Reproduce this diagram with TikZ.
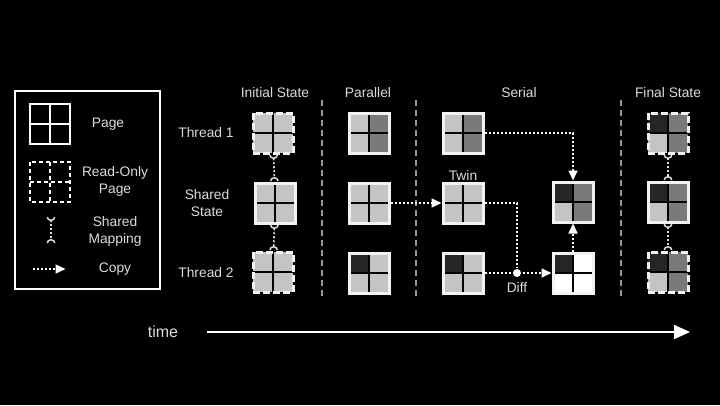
\documentclass[tikz,border=0pt]{standalone}
\usepackage{fontspec}
\setmainfont{Liberation Sans}
\usetikzlibrary{arrows.meta}
\definecolor{pglight}{HTML}{C4C4C4}
\definecolor{pgmid}{HTML}{7A7A7A}
\definecolor{pgdark}{HTML}{262626}
\definecolor{pgedge}{HTML}{F2F2F2}
\definecolor{txtgray}{HTML}{DCDCDC}
\definecolor{sepgray}{HTML}{9A9A9A}
\tikzset{
	pagenode/.style={rectangle, minimum size=40pt, inner sep=0pt, outer sep=0pt},
	solidpage/.style={draw=pgedge, line width=3pt},
	ropage/.style={solidpage, dash pattern=on 7pt off 3pt},
	crossline/.style={draw=black, line width=2.6pt},
	copyline/.style={draw=white, line width=1.6pt, dash pattern=on 2pt off 2pt, -{Triangle[length=10pt,width=9pt]}, shorten >=1.5pt, shorten <=1.5pt},
	mapline/.style={draw=txtgray, line width=1.6pt, dash pattern=on 2pt off 2pt, {Arc Barb[width=9pt,length=4pt,reversed,line width=1.5pt]}-{Arc Barb[width=9pt,length=4pt,reversed,line width=1.5pt]}, shorten >=2pt, shorten <=2pt},
	sepline/.style={draw=sepgray, line width=1.8pt, dash pattern=on 6pt off 4pt},
	txt/.style={text=txtgray, font=\fontsize{13.8}{17}\selectfont, align=center, inner sep=0pt},
	legpage/.style={rectangle, minimum size=40pt, inner sep=0pt, draw=white, line width=2pt},
	legro/.style={draw=white, line width=2pt, dash pattern=on 4pt off 3pt},
}
% page with four quadrants: [border](name)(x,y)(TL:TR:BL:BR)
\def\pagebox[#1](#2)(#3)(#4:#5:#6:#7){%
	\node[pagenode] (#2) at (#3) {};
	\fill[#4] (#2.north west) rectangle (#2.center);
	\fill[#5] (#2.north east) rectangle (#2.center);
	\fill[#6] (#2.south west) rectangle (#2.center);
	\fill[#7] (#2.south east) rectangle (#2.center);
	\draw[crossline] (#2.north) -- (#2.south) (#2.west) -- (#2.east);
	\draw[#1] (#2.north west) rectangle (#2.south east);}

\begin{document}
\begin{tikzpicture}[x=1pt, y=-1pt]
		%%%%% START %%%%%
		\fill[black] (0, 0) rectangle (720, 405);
		\useasboundingbox (0, 0) rectangle (720, 405);
		
		%%%%% legend %%%%%
		\draw[white, line width=2pt] (15, 91) rectangle (160, 289);
		
		\node[legpage] (lgpage) at (49.5, 124) {};
		\draw[white, line width=2pt] (lgpage.north) -- (lgpage.south) (lgpage.west) -- (lgpage.east);
		\node[txt] (lgpagetxt) at (108, 124) {Page};
		
		\node[pagenode] (lgro) at (49.5, 181.5) {};
		\draw[legro] (lgro.north west) rectangle (lgro.south east);
		\draw[legro] (lgro.north) -- (lgro.south) (lgro.west) -- (lgro.east);
		\node[txt] (lgrotxt) at (115, 181.5) {Read-Only\\Page};
		
		\coordinate (lgmapA) at (51, 215);
		\coordinate (lgmapB) at (51, 245);
		\draw[mapline] (lgmapA) -- (lgmapB);
		\node[txt] (lgmaptxt) at (115, 231) {Shared\\Mapping};
		
		\coordinate (lgcopyA) at (31, 269);
		\coordinate (lgcopyB) at (67, 269);
		\draw[copyline] (lgcopyA) -- (lgcopyB);
		\node[txt] (lgcopytxt) at (115, 269) {Copy};
		
		%%%%% headings %%%%%
		\node[txt] (hdinit) at (275, 93) {Initial State};
		\node[txt] (hdpar) at (368, 93) {Parallel};
		\node[txt] (hdser) at (519, 93) {Serial};
		\node[txt] (hdfin) at (668, 93) {Final State};
		
		\node[txt] (rowone) at (206, 133) {Thread 1};
		\node[txt] (rowshared) at (207, 203.5) {Shared\\State};
		\node[txt] (rowtwo) at (206, 273) {Thread 2};
		
		\draw[sepline] (322, 100) -- (322, 300);
		\draw[sepline] (416, 100) -- (416, 300);
		\draw[sepline] (621, 100) -- (621, 300);
		
		%%%%% pages %%%%%
		\pagebox[ropage](init1)(273,133)(pglight:pglight:pglight:pglight)
		\pagebox[solidpage](initS)(275,203)(pglight:pglight:pglight:pglight)
		\pagebox[ropage](init2)(273,272)(pglight:pglight:pglight:pglight)
		
		\pagebox[solidpage](par1)(369,133)(pglight:pgmid:pglight:pgmid)
		\pagebox[solidpage](parS)(369,203)(pglight:pglight:pglight:pglight)
		\pagebox[solidpage](par2)(369,273)(pgdark:pglight:pglight:pglight)
		
		\pagebox[solidpage](ser1)(463,133)(pglight:pgmid:pglight:pgmid)
		\pagebox[solidpage](twin)(463,203)(pglight:pglight:pglight:pglight)
		\pagebox[solidpage](ser2)(463,273)(pgdark:pglight:pglight:pglight)
		\pagebox[solidpage](merged)(573,202)(pgdark:pgmid:pglight:pgmid)
		\pagebox[solidpage](diffpg)(573,273)(pgdark:white:white:white)
		
		\pagebox[ropage](fin1)(668,133)(pgdark:pgmid:pglight:pgmid)
		\pagebox[solidpage](finS)(668,202)(pgdark:pgmid:pglight:pgmid)
		\pagebox[ropage](fin2)(668,272)(pgdark:pgmid:pglight:pgmid)
		
		\node[txt] (twintxt) at (463, 175) {Twin};
		
		%%%%% mappings %%%%%
		\draw[mapline] (init1) -- (initS);
		\draw[mapline] (initS) -- (init2);
		\draw[mapline] (fin1) -- (finS);
		\draw[mapline] (finS) -- (fin2);
		
		%%%%% copies %%%%%
		\node[circle, fill=white, minimum size=8pt, inner sep=0pt] (dif) at (517, 273) {};
		\node[txt] (diftxt) at (517, 287) {Diff};
		
		\draw[copyline] (parS) -- (twin);
		\draw[copyline] (ser1.east) -| (merged.north);
		\draw[copyline, -] (twin.east) -| (dif);
		\draw[copyline, -] (ser2) -- (dif);
		\draw[copyline] (dif) -- (diffpg);
		\draw[copyline] (diffpg) -- (merged);
		
		%%%%% time %%%%%
		\node[txt, font=\fontsize{16}{19}\selectfont] (timetxt) at (163, 331.5) {time};
		\coordinate (tstart) at (207, 332);
		\coordinate (tend) at (690, 332);
		\draw[white, line width=1.6pt, -{Triangle[length=16pt,width=14pt]}] (tstart) -- (tend);
		
		%%%%% END %%%%%
	\end{tikzpicture}
\end{document}
